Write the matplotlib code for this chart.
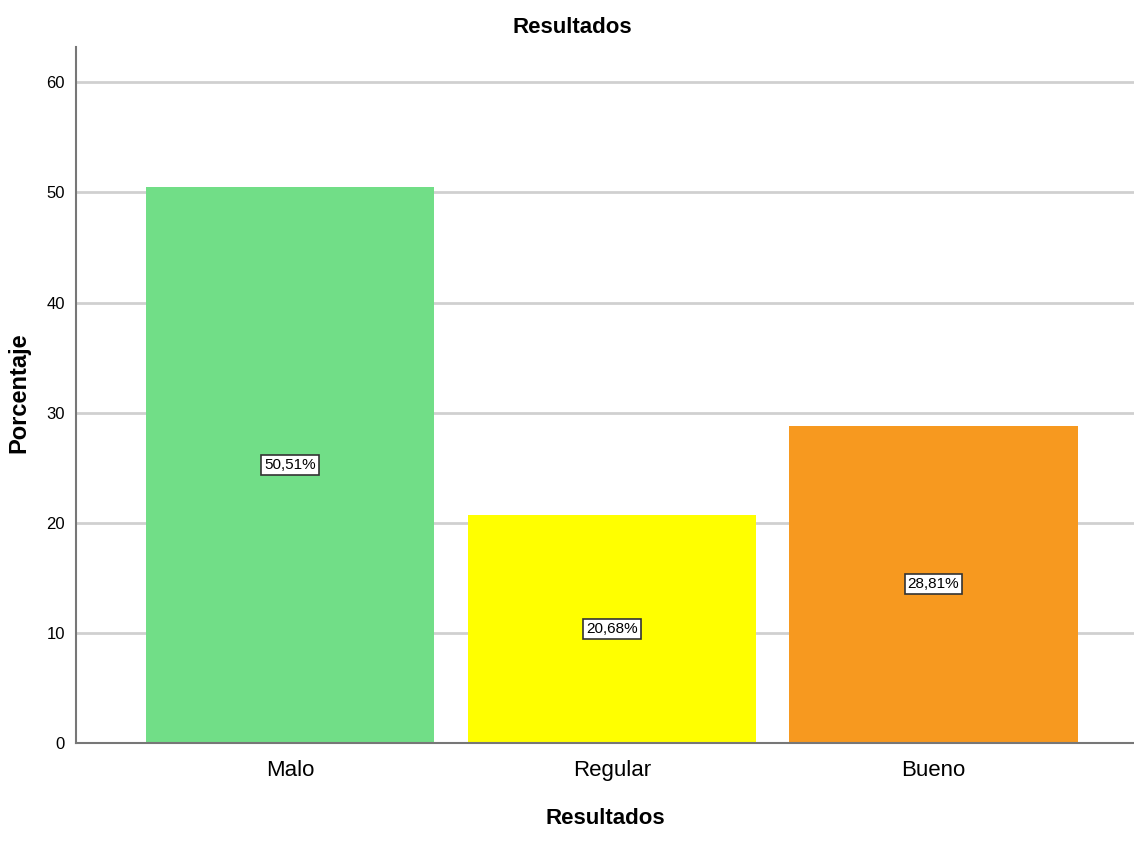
import matplotlib.pyplot as plt
from matplotlib import font_manager

categorias = ['Malo', 'Regular', 'Bueno']
porcentajes = [50.51, 20.68, 28.81]
etiquetas = ['50,51%', '20,68%', '28,81%']
colores = ['#71de87', '#ffff00', '#f7991f']
yticks = [0, 10, 20, 30, 40, 50, 60]

nombres = {f.name for f in font_manager.fontManager.ttflist}
narrow = 'Liberation Sans Narrow' if 'Liberation Sans Narrow' in nombres else 'Liberation Sans'
plt.rcParams['font.family'] = [narrow, 'DejaVu Sans']

fig = plt.figure(figsize=(11.34, 8.41), dpi=100)
ax = fig.add_axes([0.067, 0.1165, 0.933, 0.8275])

x = list(range(len(categorias)))
ax.bar(x, porcentajes, width=0.896, color=colores, zorder=2)

for xi, v, t in zip(x, porcentajes, etiquetas):
    ax.text(xi, v / 2, t, ha='center', va='center', fontsize=11, zorder=3,
            bbox=dict(boxstyle='square,pad=0.2', fc='white', ec='#333333', lw=1.2))

ax.set_xlim(-0.6656, 2.6236)
ax.set_ylim(0, 63.2)
ax.set_yticks(yticks)
ax.set_xticks(x)
ax.set_xticklabels(categorias, fontsize=16)
ax.tick_params(axis='y', length=0, pad=8, labelsize=12)
ax.tick_params(axis='x', length=0, pad=12)
ax.yaxis.grid(True, color='#d0d0d0', lw=2, zorder=1)
ax.set_axisbelow(True)

for s in ['top', 'right']:
    ax.spines[s].set_visible(False)
for s in ['left', 'bottom']:
    ax.spines[s].set_color('#777777')
    ax.spines[s].set_linewidth(1.5)
    ax.spines[s].set_zorder(4)

# titulo centrado en la figura
fig.text(0.505, 0.967, 'Resultados', ha='center', va='center', fontsize=16,
         fontweight='bold', family='Liberation Sans')
ax.set_xlabel('Resultados', fontsize=16, fontweight='bold', family='Liberation Sans', labelpad=20)
ax.set_ylabel('Porcentaje', fontsize=17, fontweight='bold', family='Liberation Sans')
ax.yaxis.set_label_coords(-0.043, 0.503)

fig.savefig('out.png', dpi=100)
